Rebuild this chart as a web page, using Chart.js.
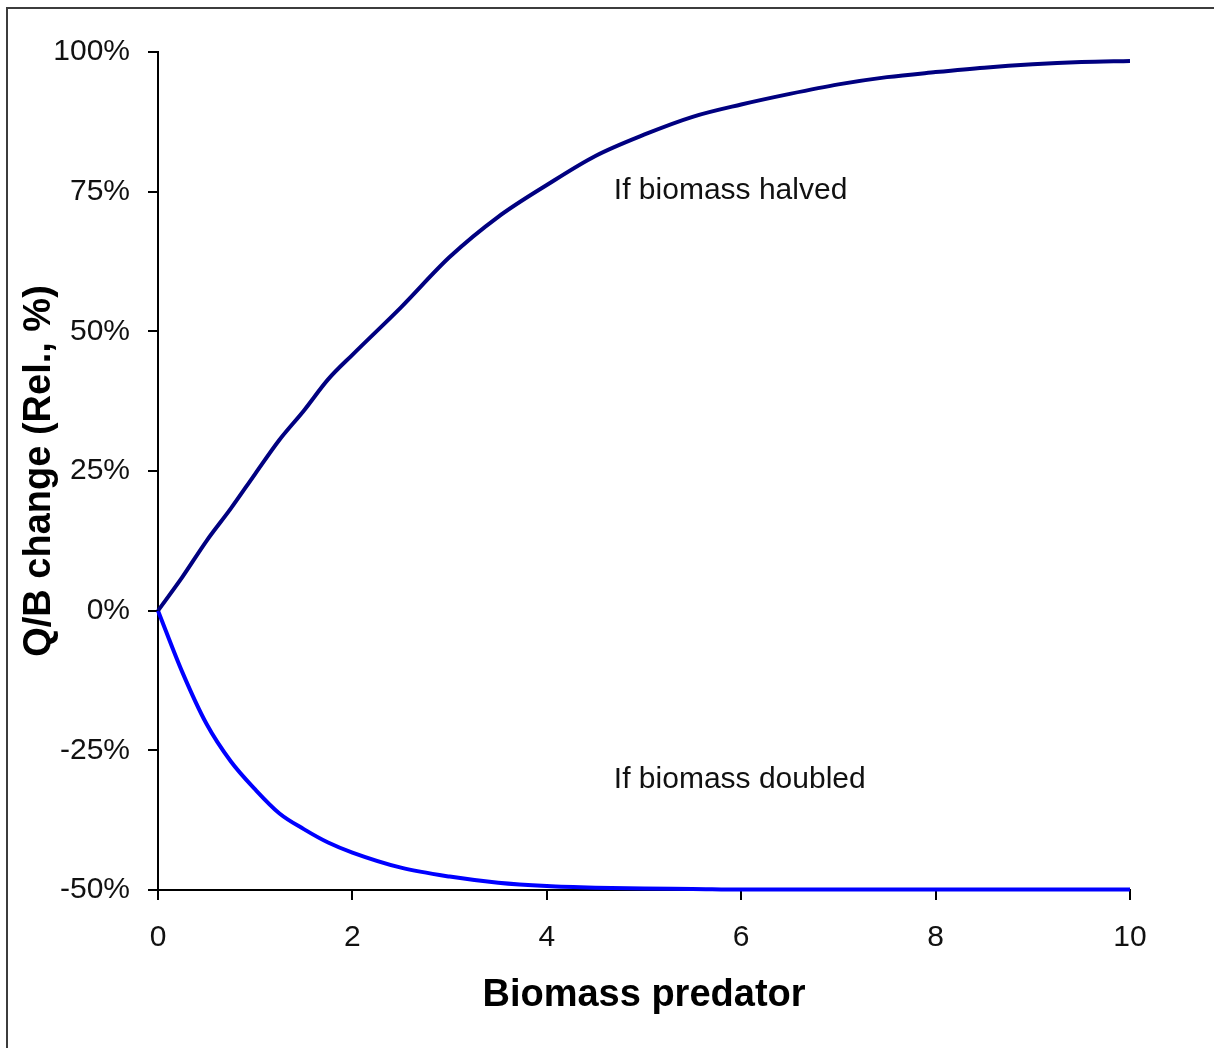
<!DOCTYPE html>
<html>
<head>
<meta charset="utf-8">
<script src="https://cdn.jsdelivr.net/npm/chart.js@4.4.1/dist/chart.umd.min.js"></script>
<style>
  html, body { margin: 0; padding: 0; background: #fff; overflow: hidden; }
  #wrap { position: relative; width: 1214px; height: 1048px; }
  #frame { position: absolute; left: 6px; top: 7px; width: 1230px; height: 1060px; border: 2px solid #3c3c3c; box-sizing: border-box; pointer-events: none; }
</style>
</head>
<body>
<div id="wrap">
  <canvas id="myChart" width="1214" height="1048"></canvas>
  <div id="frame"></div>
</div>
<script>
// biomass of the predator (x) and relative Q/B change in %
const biomass = [0, 0.25, 0.5, 0.75, 1, 1.25, 1.5, 1.75, 2, 2.5, 3, 3.5, 4, 4.5, 5, 5.5, 6, 6.5, 7, 7.5, 8, 8.5, 9, 9.5, 10];
const halved = [0, 6, 12.5, 18.3, 24.5, 30.6, 35.8, 41.4, 45.8, 54.3, 63.3, 70.5, 76.2, 81.4, 85.2, 88.4, 90.6, 92.5, 94.2, 95.5, 96.4, 97.2, 97.8, 98.2, 98.4];
const doubled = [0, -11, -20.3, -27, -32, -36.3, -39.1, -41.5, -43.3, -46, -47.6, -48.7, -49.3, -49.6, -49.75, -49.8, -49.9, -49.9, -49.9, -49.9, -49.9, -49.9, -49.9, -49.9, -49.9];
const xTicks = [0, 2, 4, 6, 8, 10];
const yTicks = [-50, -25, 0, 25, 50, 75, 100];
const notes = [
  { text: 'If biomass halved', x: 4.69, y: 75.2 },
  { text: 'If biomass doubled', x: 4.69, y: -30.2 }
];

const toPoints = (ys) => biomass.map((x, i) => ({ x: x, y: ys[i] }));

// text labels next to the curves
const notesPlugin = {
  id: 'notes',
  afterDatasetsDraw(chart) {
    const { ctx, scales } = chart;
    ctx.save();
    ctx.font = '30px "Liberation Sans", Arial, sans-serif';
    ctx.fillStyle = '#111';
    ctx.textAlign = 'left';
    ctx.textBaseline = 'middle';
    notes.forEach(n => {
      ctx.fillText(n.text, scales.x.getPixelForValue(n.x), scales.y.getPixelForValue(n.y));
    });
    ctx.restore();
  }
};

const tickFont = { family: '"Liberation Sans", Arial, sans-serif', size: 30 };
const titleFont = { family: '"Liberation Sans", Arial, sans-serif', size: 38, weight: 'bold' };

const ctx = document.getElementById('myChart').getContext('2d');
new Chart(ctx, {
  type: 'line',
  data: {
    datasets: [
      {
        label: 'If biomass halved',
        data: toPoints(halved),
        borderColor: '#000080',
        borderWidth: 4,
        pointRadius: 0,
        cubicInterpolationMode: 'monotone',
        clip: false
      },
      {
        label: 'If biomass doubled',
        data: toPoints(doubled),
        borderColor: '#0000ff',
        borderWidth: 4,
        pointRadius: 0,
        cubicInterpolationMode: 'monotone',
        clip: false
      }
    ]
  },
  options: {
    responsive: false,
    animation: false,
    layout: { padding: { top: 52, right: 84, left: 0, bottom: 0 } },
    plugins: {
      legend: { display: false },
      tooltip: { enabled: false }
    },
    scales: {
      x: {
        type: 'linear',
        min: 0,
        max: 10,
        afterFit: (s) => { s.height = 158; },
        afterBuildTicks: (s) => { s.ticks = xTicks.map(v => ({ value: v })); },
        ticks: { color: '#111', font: tickFont, padding: 20, maxRotation: 0 },
        grid: { drawOnChartArea: false, drawTicks: true, tickLength: 10, color: '#000', lineWidth: 2 },
        border: { display: true, color: '#000', width: 2 },
        title: { display: true, text: 'Biomass predator', color: '#000', font: titleFont, padding: { top: 0, bottom: 30 } }
      },
      y: {
        min: -50,
        max: 100,
        afterFit: (s) => { s.width = 158; },
        afterBuildTicks: (s) => { s.ticks = yTicks.map(v => ({ value: v })); },
        ticks: { color: '#111', font: tickFont, padding: 18, callback: (v) => v + '%' },
        grid: { drawOnChartArea: false, drawTicks: true, tickLength: 10, color: '#000', lineWidth: 2 },
        border: { display: true, color: '#000', width: 2 },
        title: { display: true, text: 'Q/B change (Rel., %)', color: '#000', font: titleFont, padding: { top: 17, bottom: 0 } }
      }
    }
  },
  plugins: [notesPlugin]
});
</script>
</body>
</html>
